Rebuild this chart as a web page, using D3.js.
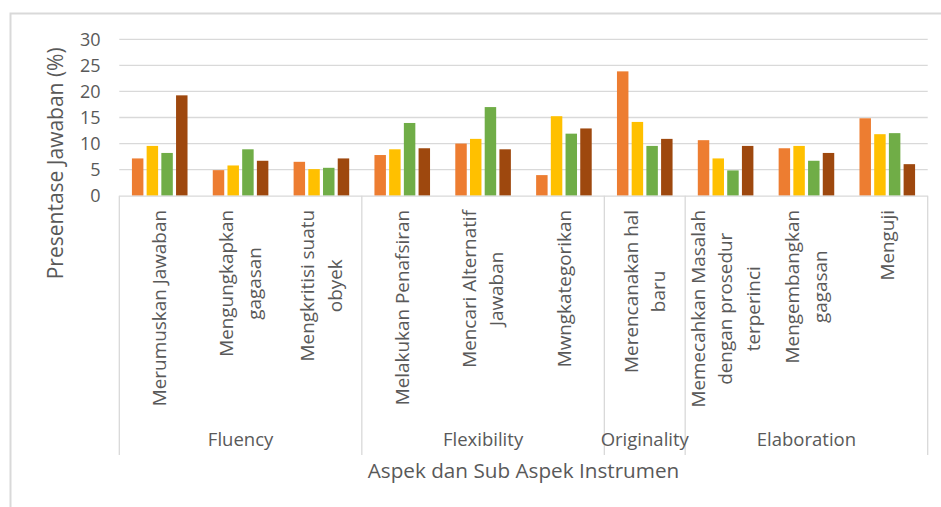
<!DOCTYPE html>
<html>
<head>
<meta charset="utf-8">
<script src="https://cdn.jsdelivr.net/npm/d3@7"></script>
<style>
  html, body { margin: 0; padding: 0; background: #fff; }
  svg { display: block; }
  text { font-family: "Open Sans", "Liberation Sans", sans-serif; fill: #595959; }
</style>
</head>
<body>
<svg id="chart" width="941" height="507"></svg>
<script>
// ---- data ----
const categories = [
  "Merumuskan Jawaban", "Mengungkapkan gagasan", "Mengkritisi suatu obyek",
  "Melakukan Penafsiran", "Mencari Alternatif Jawaban", "Mwngkategorikan",
  "Merencanakan hal baru", "Memecahkan Masalah dengan prosedur terperinci",
  "Mengembangkan gagasan", "Menguji"
];
const categoryLines = [
  ["Merumuskan Jawaban"],
  ["Mengungkapkan", "gagasan"],
  ["Mengkritisi suatu", "obyek"],
  ["Melakukan Penafsiran"],
  ["Mencari Alternatif", "Jawaban"],
  ["Mwngkategorikan"],
  ["Merencanakan hal", "baru"],
  ["Memecahkan Masalah", "dengan prosedur", "terperinci"],
  ["Mengembangkan", "gagasan"],
  ["Menguji"]
];
const groupNames = ["Fluency", "Flexibility", "Originality", "Elaboration"];
const groupSizes = [3, 3, 1, 3];

const seriesNames = ["S1", "S2", "S3", "S4"];
const seriesOrange = [7.15, 4.9, 6.5, 7.8, 10.0, 3.95, 23.85, 10.65, 9.1, 14.85];
const seriesYellow = [9.55, 5.8, 5.1, 8.9, 10.9, 15.25, 14.15, 7.15, 9.55, 11.8];
const seriesGreen  = [8.2, 8.9, 5.35, 13.95, 17.0, 11.9, 9.55, 4.85, 6.7, 12.0];
const seriesBrown  = [19.25, 6.7, 7.15, 9.1, 8.9, 12.9, 10.9, 9.55, 8.2, 6.05];
const yTicks = [0, 5, 10, 15, 20, 25, 30];

const yTitle = "Presentase Jawaban (%)";
const xTitle = "Aspek dan Sub Aspek Instrumen";

// ---- layout ----
const svg = d3.select("#chart");
const plotL = 119.3, plotR = 927.7, plotT = 39.3, plotB = 195.7;
const axisBottom = 455;
const colors = ["#ED7D31", "#FFC000", "#70AD47", "#9E480E"];
const seriesValues = [seriesOrange, seriesYellow, seriesGreen, seriesBrown];

const x0 = d3.scaleBand().domain(categories).range([plotL, plotR]).padding(0);
const x1 = d3.scaleBand().domain(seriesNames).range([0, x0.bandwidth()])
  .paddingInner(0.22).paddingOuter(0.858);
const y = d3.scaleLinear().domain([0, 30]).range([plotB, plotT]);
const color = d3.scaleOrdinal().domain(seriesNames).range(colors);

// chart border (left + top)
svg.append("path")
  .attr("d", `M10.5,507 V13.5 H941`)
  .attr("fill", "none").attr("stroke", "#d9d9d9").attr("stroke-width", 2);

// gridlines
svg.append("g").selectAll("line").data(yTicks.filter(d => d > 0)).join("line")
  .attr("x1", plotL).attr("x2", plotR)
  .attr("y1", d => y(d)).attr("y2", d => y(d))
  .attr("stroke", "#d9d9d9").attr("stroke-width", 1.3);

// y tick labels
svg.append("g").selectAll("text").data(yTicks).join("text")
  .attr("x", 100.5).attr("y", d => y(d)).attr("dy", "0.36em")
  .attr("text-anchor", "end").attr("font-size", 18)
  .text(d => d);

// bars
const rows = categories.map((c, i) => ({ cat: c, vals: seriesNames.map((s, j) => ({ s, v: seriesValues[j][i] })) }));
svg.append("g").selectAll("g").data(rows).join("g")
  .attr("transform", d => `translate(${x0(d.cat)},0)`)
  .selectAll("rect").data(d => d.vals).join("rect")
  .attr("x", d => x1(d.s)).attr("width", x1.bandwidth())
  .attr("y", d => y(d.v)).attr("height", d => y(0) - y(d.v))
  .attr("fill", d => color(d.s));

// axis baseline
svg.append("line").attr("x1", plotL).attr("x2", plotR)
  .attr("y1", plotB + 0.5).attr("y2", plotB + 0.5)
  .attr("stroke", "#d9d9d9").attr("stroke-width", 1.3);

// group separators
let bounds = [0];
groupSizes.forEach(n => bounds.push(bounds[bounds.length - 1] + n));
svg.append("g").selectAll("line").data(bounds).join("line")
  .attr("x1", d => d < categories.length ? x0(categories[d]) : plotR)
  .attr("x2", d => d < categories.length ? x0(categories[d]) : plotR)
  .attr("y1", plotB).attr("y2", axisBottom)
  .attr("stroke", "#d9d9d9").attr("stroke-width", 1.3);

// category labels (rotated)
const lh = 27.5, labelTop = 210, fsCat = 18.9;
categories.forEach((c, i) => {
  const cx = x0(c) + x0.bandwidth() / 2;
  const lines = categoryLines[i];
  const n = lines.length;
  const g = svg.append("g");
  const texts = lines.map((ln, k) => g.append("text")
    .attr("font-size", fsCat).attr("text-anchor", "middle").attr("dy", "0.35em")
    .text(ln));
  const maxL = d3.max(texts, t => t.node().getComputedTextLength());
  texts.forEach((t, k) => {
    const lx = cx + (k - (n - 1) / 2) * lh;
    const ly = labelTop + maxL / 2;
    t.attr("transform", `translate(${lx},${ly}) rotate(-90)`);
  });
});

// group labels
groupNames.forEach((gname, gi) => {
  const a = x0(categories[bounds[gi]]);
  const b = bounds[gi + 1] < categories.length ? x0(categories[bounds[gi + 1]]) : plotR;
  svg.append("text").attr("x", (a + b) / 2).attr("y", 446)
    .attr("text-anchor", "middle").attr("font-size", 18.5).text(gname);
});

// axis titles
svg.append("text").attr("x", (plotL + plotR) / 2).attr("y", 478)
  .attr("text-anchor", "middle").attr("font-size", 20.7).text(xTitle);
svg.append("text").attr("transform", "translate(63,163.3) rotate(-90)")
  .attr("text-anchor", "middle").attr("font-size", 21).text(yTitle);
</script>
</body>
</html>
